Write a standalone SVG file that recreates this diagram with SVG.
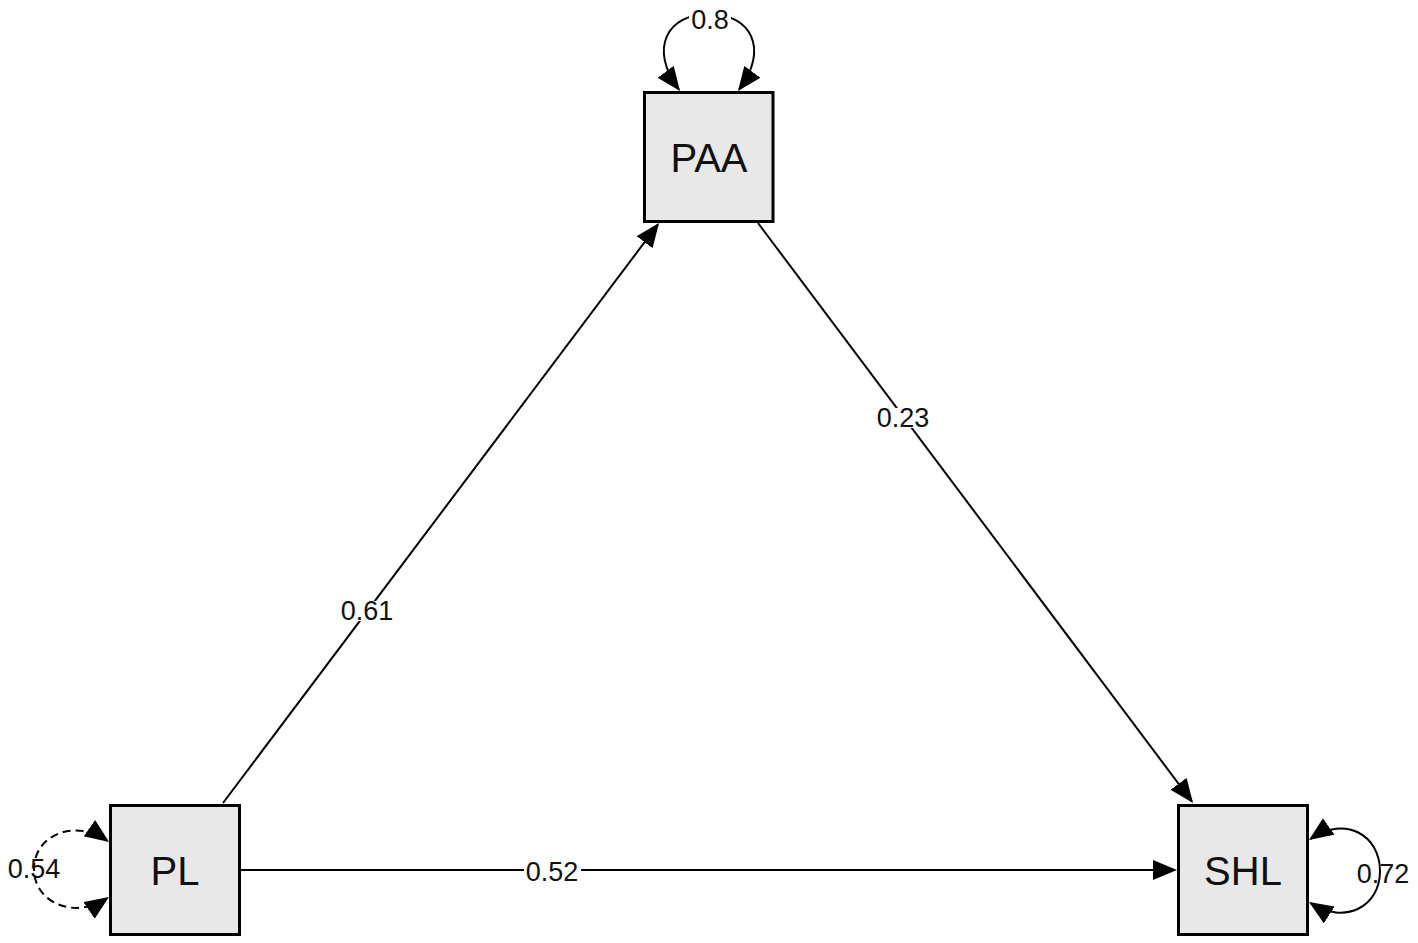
<svg xmlns="http://www.w3.org/2000/svg" width="1418" height="943" viewBox="0 0 1418 943">
<defs>
<marker id="ah" markerUnits="userSpaceOnUse" markerWidth="26" markerHeight="22" refX="22" refY="10" orient="auto-start-reverse" viewBox="0 0 26 22">
<path d="M0,0 L24,10 L0,20 z" fill="#000"/>
</marker>
<style>
.node rect{fill:#e8e8e8;stroke:#000;stroke-width:3}
.node text{font-family:"Liberation Sans",Arial,sans-serif;font-size:40px;fill:#111;text-anchor:middle}
.edge{fill:none;stroke:#000;stroke-width:2}
.lbl{font-family:"Liberation Sans",Arial,sans-serif;font-size:27px;fill:#111;text-anchor:middle}
.bg{fill:#fff}
</style>
</defs>
<rect width="1418" height="943" fill="#fff"/>
<g id="connectors">
<line class="edge" x1="223" y1="803" x2="657.8" y2="224.6" marker-end="url(#ah)"/>
<line class="edge" x1="758" y1="223" x2="1191.8" y2="801.4" marker-end="url(#ah)"/>
<line class="edge" x1="241" y1="870" x2="1175" y2="870" marker-end="url(#ah)"/>
<path class="edge" d="M678.8,89.4 C648,48 668,14 709,14 C750,14 770,48 739.2,89.4" marker-start="url(#ah)" marker-end="url(#ah)"/>
<path class="edge" d="M107.4,840.8 C75,818 34,835 34,869 C34,903 75,920 107.3,898.1" stroke-dasharray="8 5" marker-start="url(#ah)" marker-end="url(#ah)"/>
<path class="edge" d="M1310.6,838.9 C1345,815 1380,835 1380,871 C1380,907 1345,925 1310.7,903.1" marker-start="url(#ah)" marker-end="url(#ah)"/>
<rect class="bg" x="341" y="601" width="53" height="20"/>
<text class="lbl" x="367" y="620">0.61</text>
<rect class="bg" x="876" y="408" width="54" height="20"/>
<text class="lbl" x="903" y="427">0.23</text>
<rect class="bg" x="524" y="861" width="57" height="21"/>
<text class="lbl" x="552" y="881">0.52</text>
<rect class="bg" x="689" y="7" width="42" height="21"/>
<text class="lbl" x="710" y="29">0.8</text>
<text class="lbl" x="34" y="878">0.54</text>
<text class="lbl" x="1383" y="883">0.72</text>
</g>
<g id="PAA" class="node">
<rect x="644.5" y="92.5" width="128.5" height="129"/>
<text x="709" y="172">PAA</text>
</g>
<g id="PL" class="node">
<rect x="110.5" y="805.5" width="129" height="129"/>
<text x="175" y="885">PL</text>
</g>
<g id="SHL" class="node">
<rect x="1178.5" y="805.5" width="129" height="129"/>
<text x="1243" y="885">SHL</text>
</g>
</svg>
